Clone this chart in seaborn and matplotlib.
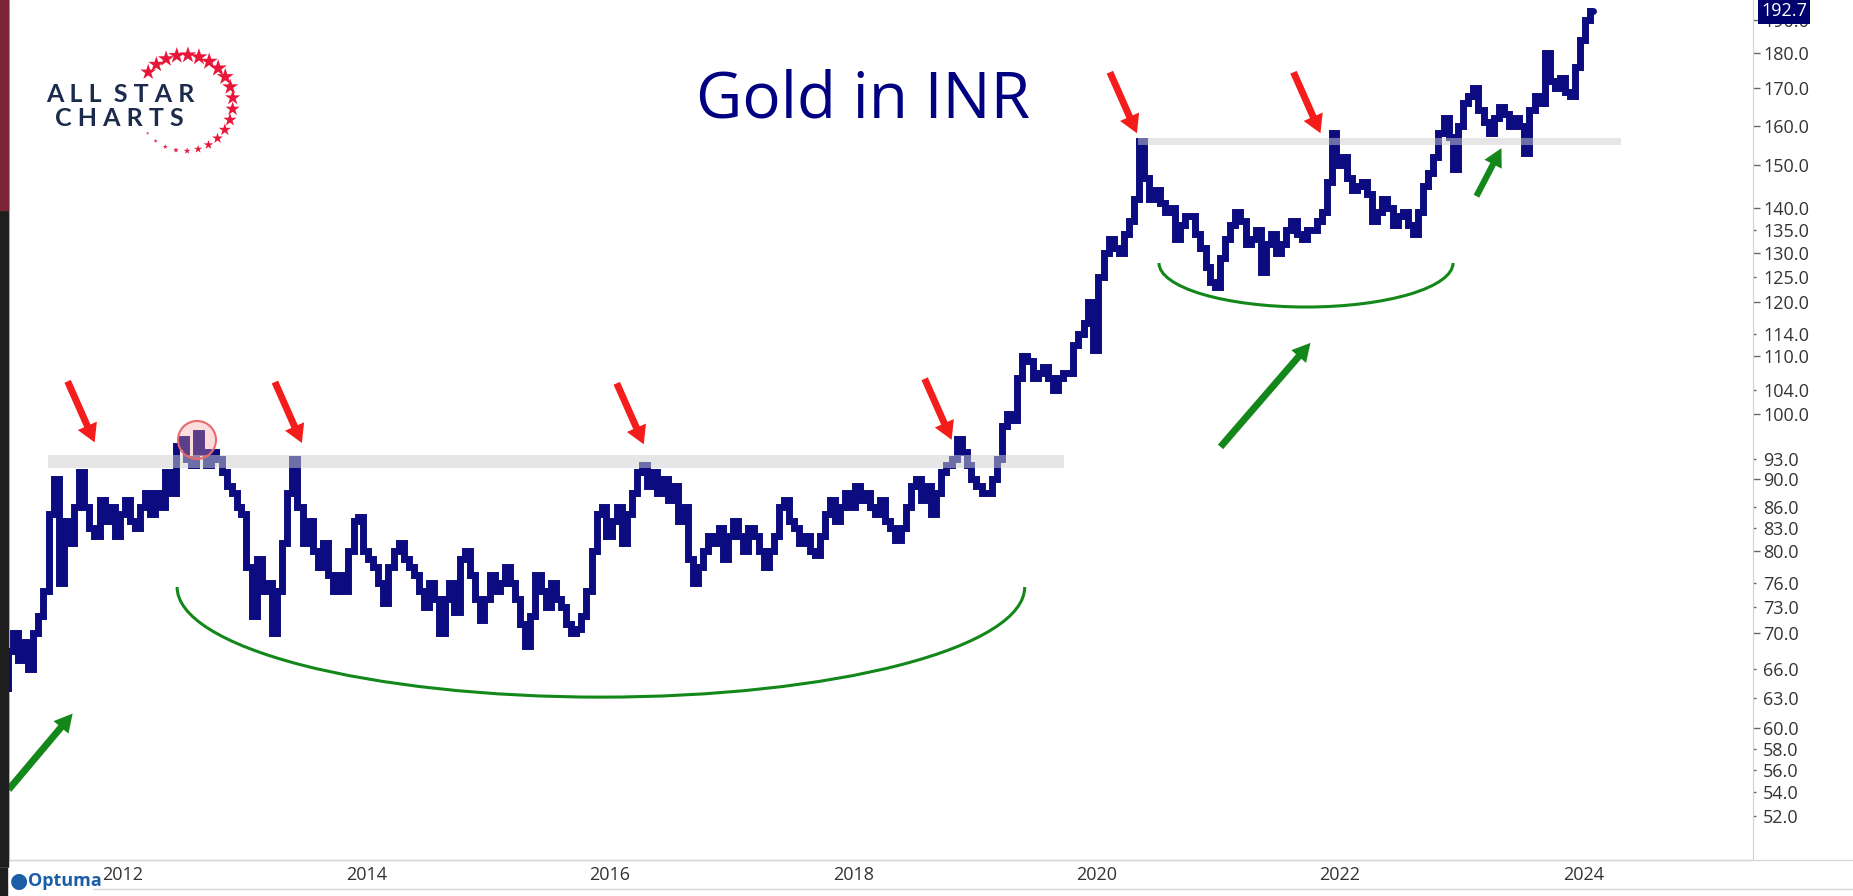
import numpy as np
import pandas as pd
import matplotlib
matplotlib.use("Agg")
import matplotlib.pyplot as plt
import matplotlib.dates as mdates
import matplotlib.transforms as mtransforms
from matplotlib.patches import Arc, Ellipse, Rectangle
from matplotlib.lines import Line2D
import seaborn as sns

# Gold price in INR, two readings per month (1st and 15th)
price_2011 = [64, 68, 70, 67, 69, 66, 70, 72, 75, 85, 90, 76, 84, 81, 86, 91, 86, 83]  # Apr-Dec
price_2012 = [82, 87, 84, 86, 82, 85, 87, 84, 83, 86, 88, 85,
              88, 86, 91, 88, 95, 96, 93, 92, 97, 94, 92, 94]
price_2013 = [93, 91, 89, 88, 86, 85, 78, 72, 79, 75, 76, 70,
              75, 81, 88, 93, 86, 81, 84, 80, 78, 81, 77, 75]
price_2014 = [77, 75, 80, 84, 84.5, 80, 79, 78, 76, 73.5, 78, 80,
              81, 79, 78, 77, 75, 73, 76, 74, 70, 74, 76, 72.5]
price_2015 = [79, 80, 77, 74, 71.5, 74, 77, 75, 76, 78, 76, 74,
              71, 68.5, 72, 77, 75, 73, 76, 74, 73, 71, 70, 70.5]
price_2016 = [72, 75, 80, 85, 86, 82, 84, 86, 81, 85, 88, 91,
              92, 89, 91, 88, 90, 87, 89, 84, 86, 79, 76, 78]
price_2017 = [80, 82, 81, 83, 79, 82, 84, 82, 80, 83, 82, 80,
              78, 80, 82, 86, 87, 84, 83, 81, 82, 80, 79.5, 82]
price_2018 = [85, 87, 84, 86, 88, 86, 89, 87, 88, 86, 85, 87,
              84, 83, 81.5, 83, 86, 89, 90, 87, 89, 85, 88, 91]
price_2019 = [92, 93, 96, 94, 92, 90, 89, 88, 88, 90, 93, 98,
              100, 99, 106, 110, 109, 106, 107, 108, 106, 104, 106, 107]
price_2020 = [107, 112, 114, 116, 120, 111, 125, 130, 133, 131, 130, 134,
              137, 142, 156, 147, 142, 144, 141, 139, 140, 133, 136, 138]
price_2021 = [138, 134, 131, 127, 124, 123, 129, 133, 136, 139, 137, 132,
              133, 135, 126, 132, 134, 130, 132, 135, 137, 134, 133, 135]
price_2022 = [135, 137, 139, 146, 158, 150, 152, 147, 144, 145, 146, 143,
              137, 139, 142, 140, 136, 138, 139, 136, 134, 139, 145, 148]
price_2023 = [152, 158, 162, 157, 149, 160, 166, 168, 170, 164, 161, 158,
              162, 165, 163, 160, 162, 160, 153, 164, 168, 166, 180, 172]
price_2024 = [170, 173, 169, 168, 176, 184, 190, 192.7]  # Jan-Apr
last_price = 192.7

years = [2012, 2014, 2016, 2018, 2020, 2022, 2024]
major_ticks = [60, 70, 80, 90, 100, 110, 120, 130, 140, 150, 160, 170, 180, 190]
minor_ticks = [52, 54, 56, 58, 63, 66, 73, 76, 83, 86, 93, 104, 114, 125, 135]

price = (price_2011 + price_2012 + price_2013 + price_2014 + price_2015 + price_2016
         + price_2017 + price_2018 + price_2019 + price_2020 + price_2021 + price_2022
         + price_2023 + price_2024)
dates = pd.date_range("2011-04-01", periods=len(price), freq="SMS")
df = pd.DataFrame({"date": dates, "price": price})

NAVY = "#0c0c80"
RED = "#f51c1c"
GREEN = "#13871a"

sns.set_style("white")
plt.rcParams["font.family"] = ["Open Sans", "DejaVu Sans"]

W, H = 1853, 896
fig = plt.figure(figsize=(W / 100, H / 100), dpi=100)
ax = fig.add_axes([9 / W, (H - 860) / H, 1744 / W, 860 / H])

# bar-like look of the weekly chart
sns.lineplot(data=df, x="date", y="price", ax=ax, color=NAVY, lw=5,
             drawstyle="steps-mid", solid_joinstyle="miter", zorder=3)

ax.set_yscale("log")
ax.set_ylim(48.37, 196.3)
ax.set_xlim(pd.Timestamp("2011-04-11"), pd.Timestamp("2025-08-09"))
ax.set_xlabel("")
ax.set_ylabel("")

# right price axis
ax.yaxis.tick_right()
ax.set_yticks(major_ticks, labels=[f"{v:.1f}" for v in major_ticks])
ax.set_yticks(minor_ticks, labels=[f"{v:.1f}" for v in minor_ticks], minor=True)
ax.tick_params(axis="y", which="major", length=5, width=1, color="#666666",
               labelsize=13, labelcolor="#333333", pad=2.2)
ax.tick_params(axis="y", which="minor", length=2.5, width=1, color="#666666",
               labelsize=13, labelcolor="#333333", pad=4.7)

# year separators below the chart
ax.set_xticks([mdates.date2num(pd.Timestamp(f"{y}-01-01")) for y in years])
ax.set_xticklabels([])
ax.tick_params(axis="x", length=21, width=1, color="#d6d6d6", direction="out")
lab_tr = (mtransforms.blended_transform_factory(ax.transData, ax.transAxes)
          + mtransforms.ScaledTranslation(5 / 100, 0, fig.dpi_scale_trans))
for y in years:
    ax.text(mdates.date2num(pd.Timestamp(f"{y}-01-01")), -0.0175, str(y),
            transform=lab_tr, ha="left", va="center", fontsize=13, color="#333333")

for side in ["left", "right", "bottom"]:
    ax.spines[side].set_color("#d0d0d0")
ax.spines["top"].set_visible(False)
fig.add_artist(Line2D([0, 1], [1 - 889 / H] * 2, transform=fig.transFigure,
                      color="#d6d6d6", lw=1))
fig.add_artist(Line2D([0, 1], [1 - 860 / H] * 2, transform=fig.transFigure,
                      color="#d6d6d6", lw=1))

# resistance bands
d = mdates.date2num
ax.fill_between([d(pd.Timestamp("2011-08-07")), d(pd.Timestamp("2019-12-11"))],
                91.6, 93.5, color="#cfcfcf", alpha=0.5, lw=0, zorder=5)
ax.fill_between([d(pd.Timestamp("2020-07-19")), d(pd.Timestamp("2024-07-08"))],
                155.0, 156.8, color="#cfcfcf", alpha=0.5, lw=0, zorder=5)

# red arrows at the tops
red_tips = [("2011-12-24", 95.5), ("2013-09-06", 95.4), ("2016-06-28", 95.2),
            ("2019-01-08", 95.9), ("2020-07-17", 158.0), ("2022-01-19", 158.0)]
for dt, p in red_tips:
    ax.annotate("", xy=(d(pd.Timestamp(dt)), p), xytext=(-27, 61),
                textcoords="offset pixels",
                arrowprops=dict(facecolor=RED, edgecolor="none", width=5,
                                headwidth=15, headlength=13, shrink=0), zorder=6)

# green arrows
green_tips = [("2011-10-19", 61.4, (-64, -76), 5), ("2021-12-20", 112.3, (-90, -104), 5),
              ("2023-07-16", 154.2, (-25, -48), 4.5)]
for dt, p, off, wd in green_tips:
    ax.annotate("", xy=(d(pd.Timestamp(dt)), p), xytext=off,
                textcoords="offset pixels",
                arrowprops=dict(facecolor=GREEN, edgecolor="none", width=wd,
                                headwidth=14, headlength=13, shrink=0), zorder=6)

# base arcs
ax.add_patch(Arc((0.3394, 0.3174), 0.486, 0.256, theta1=180, theta2=360,
                 transform=ax.transAxes, color=GREEN, lw=2.2, zorder=4))
ax.add_patch(Arc((0.7437, 0.6942), 0.1686, 0.1024, theta1=180, theta2=360,
                 transform=ax.transAxes, color=GREEN, lw=2.2, zorder=4))

# circled top
ax.add_patch(Ellipse((0.1078, 0.4884), 38 / 1744, 38 / 860, transform=ax.transAxes,
                     facecolor="#f4a0a0", alpha=0.35, edgecolor="none", zorder=6))
ax.add_patch(Ellipse((0.1078, 0.4884), 38 / 1744, 38 / 860, transform=ax.transAxes,
                     facecolor="none", edgecolor="#e86a6a", lw=1.5, zorder=6))

# last price box
ax.text(1.0046, last_price, f"{last_price:.1f}",
        transform=mtransforms.blended_transform_factory(ax.transAxes, ax.transData),
        ha="left", va="center", fontsize=13, color="white", zorder=10,
        bbox=dict(boxstyle="square,pad=0.18", fc="#00006e", ec="none"))

# title
fig.text(863 / W, 1 - 100 / H, "Gold in INR", ha="center", va="center",
         fontsize=46, color="#000080")

# All Star Charts logo
lax = fig.add_axes([0, 1 - 200 / H, 260 / W, 200 / H])
lax.set_xlim(0, 260)
lax.set_ylim(200, 0)
lax.axis("off")
lax.text(120, 94, "A L L  S T A R", ha="center", va="center", fontsize=18,
         fontweight="bold", color="#1c2b4b", family=["Lato", "DejaVu Sans"])
lax.text(119, 119, "C H A R T S", ha="center", va="center", fontsize=18,
         fontweight="bold", color="#1c2b4b", family=["Lato", "DejaVu Sans"])
ang = np.linspace(140, -141, 22)
star_px = np.interp(ang, [-141, -90, -30, 40, 140], [2, 4, 8, 11, 10])
lax.scatter(185 + 48 * np.cos(np.radians(ang)), 103 - 48 * np.sin(np.radians(ang)),
            marker="*", s=(star_px * 1.2) ** 2, color="#e8173a", linewidths=0)

# left dark strip and Optuma badge
fig.add_artist(Rectangle((0, 0), 8 / W, 1, transform=fig.transFigure,
                         color="#1e1e1e", zorder=20))
fig.add_artist(Rectangle((0, 1 - 210 / H), 8 / W, 210 / H, transform=fig.transFigure,
                         color="#7a2436", zorder=21))
fig.add_artist(Rectangle((0, 0), 92 / W, 28 / H, transform=fig.transFigure,
                         color="white", zorder=22))
fig.add_artist(Rectangle((0, 0), 7 / W, 28 / H, transform=fig.transFigure,
                         color="#1e1e1e", zorder=23))
fig.text(19 / W, 1 - 881 / H, "\u25CF", ha="center", va="center", fontsize=15,
         color="#1a5ea8", zorder=24)
fig.text(28 / W, 1 - 881 / H, "Optuma", ha="left", va="center", fontsize=13,
         fontweight="bold", color="#1a5ea8", zorder=24)

fig.savefig("out.png", dpi=100)
